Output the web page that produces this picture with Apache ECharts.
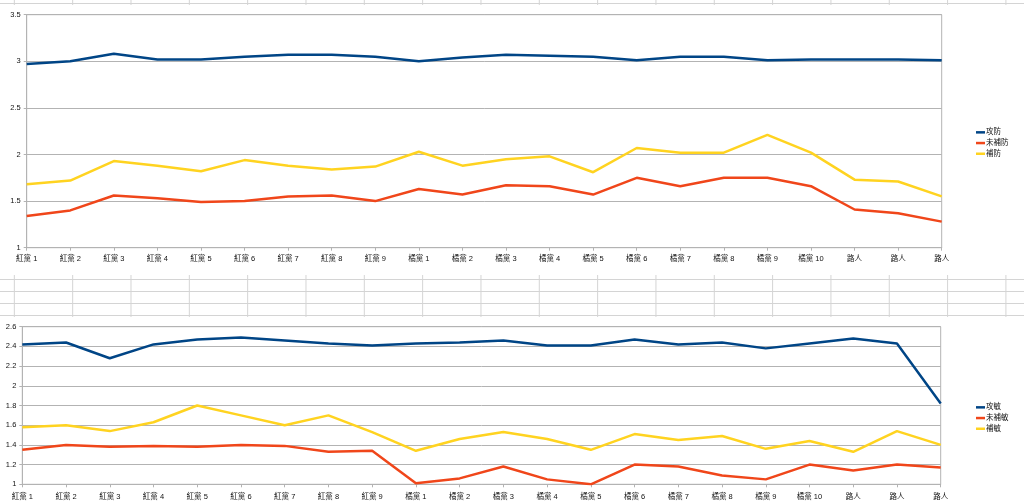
<!DOCTYPE html>
<html><head><meta charset="utf-8">
<script src="https://cdn.jsdelivr.net/npm/echarts@6/dist/echarts.min.js"></script>
<style>
html,body{margin:0;padding:0;width:1024px;height:503px;overflow:hidden;}
body{
 background-color:#fff;
 background-image:
  repeating-linear-gradient(to right, transparent 0, transparent 13.5px, #d4d4d4 13.5px, #d4d4d4 14.5px, transparent 14.5px, transparent 58.33px),
  repeating-linear-gradient(to bottom, transparent 0, transparent 3.5px, #d4d4d4 3.5px, #d4d4d4 4.5px, transparent 4.5px, transparent 12px);
 background-size:58.33px 100%, 100% 12px;
 position:relative;
}
#c1{position:absolute;left:0;top:5px;width:1024px;height:270px;background:#fff;}
#c2{position:absolute;left:0;top:317px;width:1024px;height:186px;background:#fff;}
</style></head>
<body>
<div id="c1"></div>
<div id="c2"></div>
<script>
var categories = ['紅黨 1','紅黨 2','紅黨 3','紅黨 4','紅黨 5','紅黨 6','紅黨 7','紅黨 8','紅黨 9',
 '橘黨 1','橘黨 2','橘黨 3','橘黨 4','橘黨 5','橘黨 6','橘黨 7','橘黨 8','橘黨 9','橘黨 10','路人','路人','路人'];

var topNames = ['攻防','未補防','補防'];
var topAttack = [2.97,3.00,3.08,3.02,3.02,3.05,3.07,3.07,3.05,3.00,3.04,3.07,3.06,3.05,3.01,3.05,3.05,3.01,3.02,3.02,3.02,3.01];
var topUnfilled = [1.34,1.40,1.56,1.53,1.49,1.50,1.55,1.56,1.50,1.63,1.57,1.67,1.66,1.57,1.75,1.66,1.75,1.75,1.66,1.41,1.37,1.28];
var topFilled = [1.68,1.72,1.93,1.88,1.82,1.94,1.88,1.84,1.87,2.03,1.88,1.95,1.98,1.81,2.07,2.02,2.02,2.21,2.02,1.73,1.71,1.55];

var botNames = ['攻敏','未補敏','補敏'];
var botAttack = [2.42,2.44,2.28,2.42,2.47,2.49,2.46,2.43,2.41,2.43,2.44,2.46,2.41,2.41,2.47,2.42,2.44,2.38,2.43,2.48,2.43,1.82];
var botUnfilled = [1.35,1.40,1.38,1.39,1.38,1.40,1.39,1.33,1.34,1.01,1.06,1.18,1.05,1.00,1.20,1.18,1.09,1.05,1.20,1.14,1.20,1.17];
var botFilled = [1.58,1.60,1.54,1.63,1.80,1.70,1.60,1.70,1.53,1.34,1.46,1.53,1.46,1.35,1.51,1.45,1.49,1.36,1.44,1.33,1.54,1.40];

var topTicks = {min:1, max:3.5, interval:0.5};
var botTicks = {min:1, max:2.6, interval:0.2};

var colors = ['#004586','#f0461a','#ffd320'];
var FONT = '"Liberation Sans","Noto Sans CJK TC",sans-serif';

function build(names, data, ticks, grid, legendTop, xMargin){
  return {
    animation:false,
    color:colors,
    textStyle:{fontFamily:FONT},
    grid:Object.assign({show:true, borderColor:'#b3b3b3', borderWidth:1, backgroundColor:'transparent'}, grid),
    legend:{
      orient:'vertical', left:971, top:legendTop, icon:'rect', itemWidth:9, itemHeight:2.5, itemGap:0,
      textStyle:{fontSize:7.5, color:'#111', lineHeight:10.7, padding:[0,0,0,-4]},
      data:names
    },
    xAxis:{
      type:'category', boundaryGap:false, data:categories,
      axisLine:{lineStyle:{color:'#b3b3b3'}},
      axisTick:{show:true, length:3, lineStyle:{color:'#b3b3b3'}},
      axisLabel:{interval:0, fontSize:7.5, color:'#111', margin:xMargin},
      splitLine:{show:false}
    },
    yAxis:{
      type:'value', min:ticks.min, max:ticks.max, interval:ticks.interval,
      axisLine:{show:true, lineStyle:{color:'#b3b3b3'}},
      axisTick:{show:true, length:3, lineStyle:{color:'#b3b3b3'}},
      axisLabel:{fontSize:7.5, color:'#111', margin:6},
      splitLine:{show:true, lineStyle:{color:'#b3b3b3', width:1}}
    },
    series:names.map(function(n,i){
      return {name:n, type:'line', data:data[i], symbol:'none', showSymbol:false,
        lineStyle:{width:2.5}};
    })
  };
}

var c1 = echarts.init(document.getElementById('c1'), null, {renderer:'canvas'});
c1.setOption(build(topNames, [topAttack, topUnfilled, topFilled], topTicks,
  {left:26.7, right:82.3, top:9.7, bottom:27.3}, 117, 7.5));
var c2 = echarts.init(document.getElementById('c2'), null, {renderer:'canvas'});
c2.setOption(build(botNames, [botAttack, botUnfilled, botFilled], botTicks,
  {left:22.3, right:83.3, top:9.7, bottom:18.7}, 80, 8.5));
</script>
</body></html>
